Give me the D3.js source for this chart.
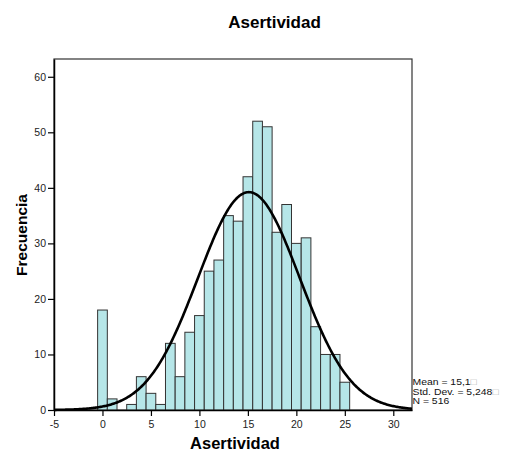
<!DOCTYPE html>
<html>
<head>
<meta charset="utf-8">
<script src="https://cdn.jsdelivr.net/npm/d3@7"></script>
<style>
body{margin:0;background:#fff}
text{font-family:"Liberation Sans",Arial,sans-serif}
</style>
</head>
<body>
<svg id="svg1" width="515" height="452"></svg>
<script>
// frequency per integer score
var scores = [0,1,2,3,4,5,6,7,8,9,10,11,12,13,14,15,16,17,18,19,20,21,22,23,24,25]
var counts = [18,2,0,1,6,3,1,12,6,14,17,25,27,35,34,42,52,51,32,37,30,31,15,10,10,5]
var xTicks = [-5,0,5,10,15,20,25,30]
var yTicks = [0,10,20,30,40,50,60]
var mean = 15.1
var sd = 5.248
var n = 516
var statLines = ["Mean = 15,1", "Std. Dev. = 5,248", "N = 516"]

var svg = d3.select("#svg1")
var x = d3.scaleLinear().domain([-5,31.93]).range([54,412])
var y = d3.scaleLinear().domain([0,63.2]).range([410,59])

// frame
svg.append("rect")
  .attr("x",54).attr("y",59)
  .attr("width",358).attr("height",351)
  .attr("fill","none").attr("stroke","#333").attr("stroke-width",1.2)

// bars
svg.selectAll("rect.bar").data(scores.filter(function(d,i){return counts[i]>0}))
  .enter().append("rect").attr("class","bar")
  .attr("x",function(d){return x(d-0.5)})
  .attr("width",function(d){return x(d+0.5)-x(d-0.5)})
  .attr("y",function(d){return y(counts[scores.indexOf(d)])})
  .attr("height",function(d){return y(0)-y(counts[scores.indexOf(d)])})
  .attr("fill","#b6e6e8").attr("stroke","#333").attr("stroke-width",1)

// normal curve from the reported stats
var pts = d3.range(-5,31.93,0.1).concat([31.93])
var line = d3.line()
  .x(function(d){return x(d)})
  .y(function(d){return y(n/(sd*Math.sqrt(2*Math.PI))*Math.exp(-0.5*Math.pow((d-mean)/sd,2)))})
svg.append("path").datum(pts)
  .attr("d",line).attr("fill","none")
  .attr("stroke","#000").attr("stroke-width",2.6)

// axes
var fmt = function(d){return String(d)}
var xAxis = svg.append("g").attr("transform","translate(0,410)")
  .call(d3.axisBottom(x).tickValues(xTicks).tickFormat(fmt).tickSize(6).tickSizeOuter(0).tickPadding(5))
var yAxis = svg.append("g").attr("transform","translate(54,0)")
  .call(d3.axisLeft(y).tickValues(yTicks).tickFormat(fmt).tickSize(6).tickSizeOuter(0).tickPadding(2))
xAxis.select(".domain").attr("stroke","#000").attr("stroke-width",1.5)
yAxis.select(".domain").attr("stroke","#000").attr("stroke-width",1.5)
svg.selectAll(".tick line").attr("stroke","#000").attr("stroke-width",1.2)
svg.selectAll(".tick text").attr("font-size",10.5).attr("fill","#222")
  .style("font-family","Liberation Sans, Arial, sans-serif")

// titles
svg.append("text").attr("x",274.5).attr("y",28).attr("text-anchor","middle")
  .attr("font-size",17).attr("font-weight","bold").text("Asertividad")
svg.append("text").attr("x",235).attr("y",449).attr("text-anchor","middle")
  .attr("font-size",16.5).attr("font-weight","bold").text("Asertividad")
svg.append("text").attr("transform","translate(27,235) rotate(-90)")
  .attr("text-anchor","middle")
  .attr("font-size",15.5).attr("font-weight","bold").text("Frecuencia")

// stats box, a bit wider than tall like the original
var st = svg.append("g").attr("transform","translate(412.5,0) scale(1.12,1)")
  .append("text").attr("font-size",9.3).attr("fill","#111")
statLines.forEach(function(s,i){
  var t = st.append("tspan").attr("x",0).attr("y",385.5+i*9.5).text(s)
  if(i<2) t.append("tspan").attr("fill","#aaa").text("\u25A1")
})
</script>
</body>
</html>
